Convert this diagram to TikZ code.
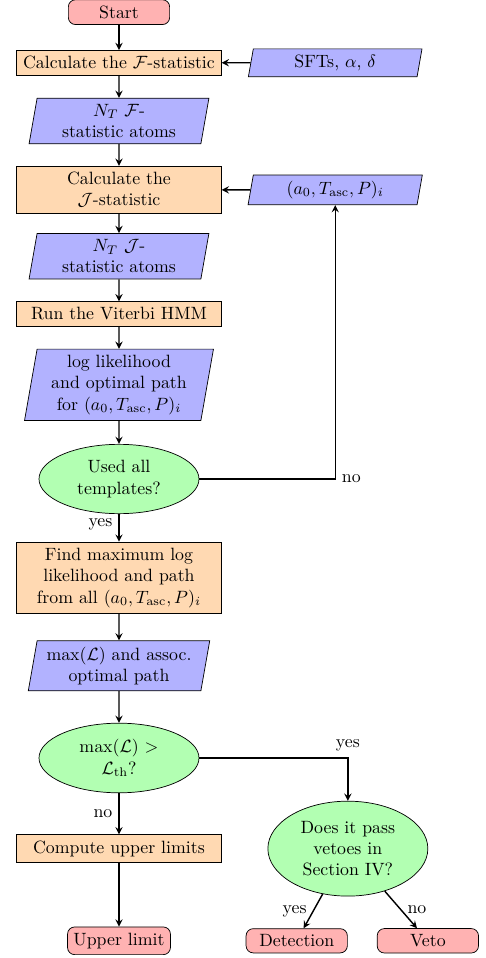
\documentclass[tikz,border=0pt]{standalone}
\usepackage{amsmath}
\usepackage{amssymb}
\usepackage{tikz}
\usetikzlibrary{shapes,shapes.geometric,arrows}
\tikzset{
	terminal/.style = {draw, thin, rectangle, rounded corners, fill=red!30,
		minimum width = 2cm},
	process/.style  = {draw, thin, rectangle, fill=orange!30,
		minimum width = 115pt, align = center},
	io/.style       = {draw, thin, trapezium, trapezium left angle = 80,
		trapezium right angle = 100, fill=blue!30, text width = 3cm,
		align = center},
	decision/.style = {draw, thin, ellipse, fill=green!30, text width = 2cm,
		align = center}
}
\newcommand{\params}{(a_0, T_{\mathrm{asc}}, P)_i}

\begin{document}
\begin{tikzpicture}[auto, thick, >=stealth]
	\useasboundingbox (0,0) rectangle (9.58,-18.92);
	\draw
	node at (2.35,-0.24)[terminal] (start) {Start}
	node at (2.35,-1.24)[process] (calcF) {Calculate the $\mathcal{F}$-statistic}
	node at (6.62,-1.24)[io] (sfts) {SFTs, $\alpha$, $\delta$}
	node at (2.35,-2.39)[io] (atomsF) {$N_T$ $\mathcal{F}$-\\statistic atoms}
	node at (2.35,-3.75)[process] (calcJ) {Calculate the\\$\mathcal{J}$-statistic}
	node at (6.62,-3.75)[io] (tmpl) {$\params$}
	node at (2.35,-5.06)[io] (atomsJ) {$N_T$ $\mathcal{J}$-\\statistic atoms}
	node at (2.35,-6.20)[process] (viterbi) {Run the Viterbi HMM}
	node at (2.35,-7.60)[io] (loglik) {log likelihood\\and optimal path\\for $\params$}
	node at (2.35,-9.46)[decision] (used) {Used all\\templates?}
	node at (2.35,-11.41)[process] (findmax) {Find maximum log\\likelihood and path\\from all $\params$}
	node at (2.35,-13.15)[io] (maxL) {$\max(\mathcal{L})$ and assoc.\\optimal path}
	node at (2.35,-14.97)[decision] (thresh) {$\max(\mathcal{L})$ $>$\\$\mathcal{L}_{\mathrm{th}}$?}
	node at (2.35,-16.76)[process] (limits) {Compute upper limits}
	node at (2.35,-18.58)[terminal] (upper) {Upper limit}
	node at (6.87,-16.76)[decision] (vetoes) {Does it pass\\vetoes in\\Section IV?}
	node at (5.86,-18.58)[terminal] (detect) {Detection}
	node at (8.45,-18.58)[terminal] (veto) {Veto};
	
	\draw[->](start) -- (calcF);
	\draw[->](sfts) -- (calcF);
	\draw[->](calcF) -- (atomsF);
	\draw[->](atomsF) -- (calcJ);
	\draw[->](tmpl) -- (calcJ);
	\draw[->](calcJ) -- (atomsJ);
	\draw[->](atomsJ) -- (viterbi);
	\draw[->](viterbi) -- (loglik);
	\draw[->](loglik) -- (used);
	\draw[->](used) -- node[swap, pos=0.38] {yes} (findmax);
	\draw[->](used.east) -| node[pos=0.5, right] {no} (tmpl.south);
	\draw[->](findmax) -- (maxL);
	\draw[->](maxL) -- (thresh);
	\draw[->](thresh) -- node[swap] {no} (limits);
	\draw[->](thresh.east) -| node[pos=0.5, above] {yes} (vetoes.north);
	\draw[->](limits) -- (upper);
	\draw[->](vetoes) -- node[left] {yes} (detect);
	\draw[->](vetoes) -- node[right] {no} (veto);
\end{tikzpicture}
\end{document}
